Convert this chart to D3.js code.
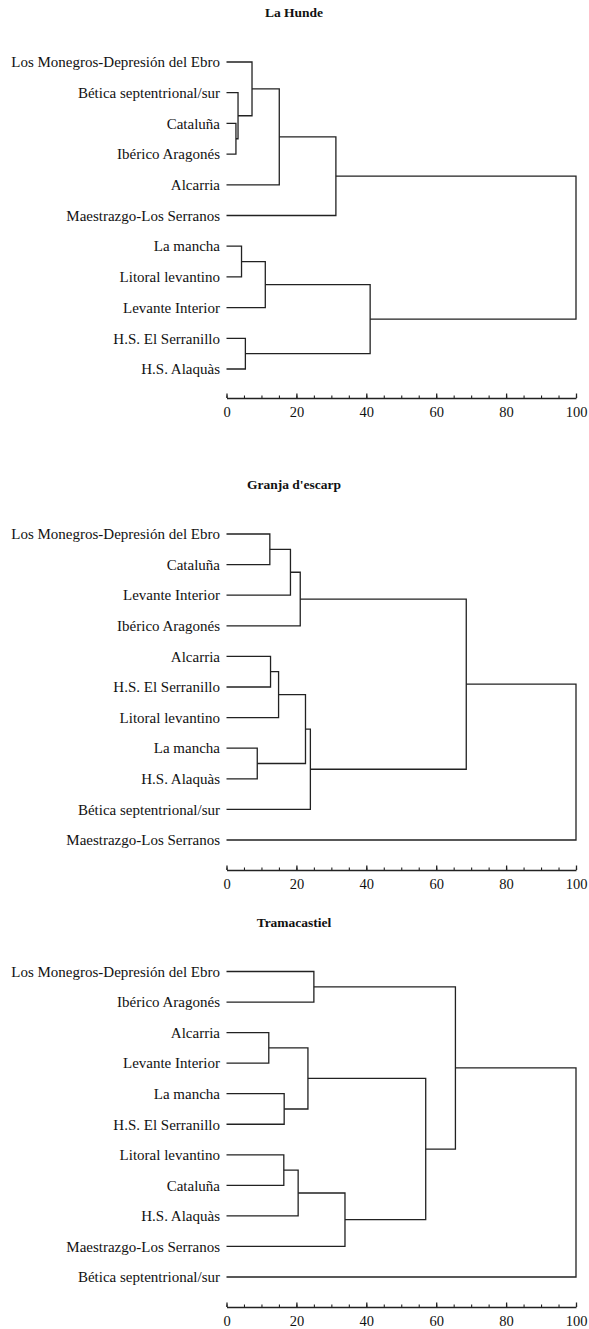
<!DOCTYPE html>
<html>
<head>
<meta charset="utf-8">
<script src="https://cdn.jsdelivr.net/npm/d3@7"></script>
<style>
  body { margin: 0; background: #fff; }
  svg text { font-family: "Liberation Serif", "Times New Roman", serif !important; fill: #111; }
</style>
</head>
<body>
<div id="chart"></div>
<script>
// leaf order and merges for each dendrogram
// merges: [childA, childB, height]; leaves are 0..10, merge i makes cluster 11+i
let titles = ["La Hunde", "Granja d'escarp", "Tramacastiel"];

let leavesHunde = ["Los Monegros-Depresión del Ebro", "Bética septentrional/sur", "Cataluña",
  "Ibérico Aragonés", "Alcarria", "Maestrazgo-Los Serranos", "La mancha", "Litoral levantino",
  "Levante Interior", "H.S. El Serranillo", "H.S. Alaquàs"];
let mergesHunde = [[2, 3, 2.7], [1, 11, 3.3], [6, 7, 4.3], [9, 10, 5.4], [0, 12, 7.3],
  [13, 8, 11.1], [15, 4, 15.1], [17, 5, 31.3], [16, 14, 41.1], [18, 19, 100]];

let leavesGranja = ["Los Monegros-Depresión del Ebro", "Cataluña", "Levante Interior",
  "Ibérico Aragonés", "Alcarria", "H.S. El Serranillo", "Litoral levantino", "La mancha",
  "H.S. Alaquàs", "Bética septentrional/sur", "Maestrazgo-Los Serranos"];
let mergesGranja = [[7, 8, 8.8], [0, 1, 12.4], [4, 5, 12.6], [13, 6, 14.9], [12, 2, 18.3],
  [15, 3, 21.1], [14, 11, 22.6], [17, 9, 24.0], [16, 18, 68.6], [19, 10, 100]];

let leavesTrama = ["Los Monegros-Depresión del Ebro", "Ibérico Aragonés", "Alcarria",
  "Levante Interior", "La mancha", "H.S. El Serranillo", "Litoral levantino", "Cataluña",
  "H.S. Alaquàs", "Maestrazgo-Los Serranos", "Bética septentrional/sur"];
let mergesTrama = [[2, 3, 12.1], [4, 5, 16.5], [6, 7, 16.4], [13, 8, 20.5], [11, 12, 23.3],
  [0, 1, 25.0], [14, 9, 33.9], [15, 17, 57.0], [16, 18, 65.5], [19, 10, 100]];

let majorTicks = [0, 20, 40, 60, 80, 100];
let minorTicks = d3.range(0, 101, 5);

function makeChart() {
  let svgWidth = 589;
  let svgHeight = 1329;
  let serif = "Liberation Serif, Times New Roman, serif";

  let svg = d3.select("#chart")
    .append("svg")
    .attr("width", svgWidth)
    .attr("height", svgHeight)
    .attr("font-family", serif);

  // panel layout: title y, first leaf y, last leaf y, axis y
  let panels = [
    { title: titles[0], leaves: leavesHunde, merges: mergesHunde, ty: 17, y0: 62, y1: 369, ay: 398 },
    { title: titles[1], leaves: leavesGranja, merges: mergesGranja, ty: 489, y0: 534, y1: 840, ay: 870 },
    { title: titles[2], leaves: leavesTrama, merges: mergesTrama, ty: 927, y0: 971.5, y1: 1277, ay: 1307 }
  ];

  let x = d3.scaleLinear().domain([0, 100]).range([226.5, 576]);

  panels.forEach(function(p) {
    let g = svg.append("g");

    let y = d3.scalePoint().domain(d3.range(p.leaves.length)).range([p.y0, p.y1]);

    //title
    g.append("text")
      .attr("x", 294)
      .attr("y", p.ty)
      .attr("text-anchor", "middle")
      .attr("font-family", serif)
      .attr("font-size", "13.5px")
      .attr("font-weight", "bold")
      .text(p.title);

    //leaf labels
    g.selectAll(".leaf")
      .data(p.leaves)
      .enter()
      .append("text")
      .attr("class", "leaf")
      .attr("x", 220)
      .attr("y", (d, i) => y(i))
      .attr("dy", "0.35em")
      .attr("text-anchor", "end")
      .attr("font-family", serif)
      .attr("font-size", "15px")
      .text(d => d);

    // node positions: leaves first, then clusters
    let nodes = p.leaves.map((d, i) => ({ h: 0, y: y(i) }));
    let links = [];
    p.merges.forEach(function(m) {
      let a = nodes[m[0]], b = nodes[m[1]];
      links.push({ a: a, b: b, h: m[2] });
      nodes.push({ h: m[2], y: (a.y + b.y) / 2 });
    });

    g.selectAll(".link")
      .data(links)
      .enter()
      .append("path")
      .attr("class", "link")
      .attr("fill", "none")
      .attr("stroke", "#222")
      .attr("stroke-width", 1.3)
      .attr("d", d => `M${x(d.a.h)},${d.a.y}H${x(d.h)}V${d.b.y}H${x(d.b.h)}`);

    //axis
    let minor = g.append("g")
      .attr("transform", `translate(0, ${p.ay})`)
      .call(d3.axisBottom(x).tickValues(minorTicks).tickSize(-2.5).tickFormat(""));
    minor.select(".domain").remove();

    let axis = g.append("g")
      .attr("transform", `translate(0, ${p.ay})`)
      .call(d3.axisBottom(x).tickValues(majorTicks).tickSize(-4.5).tickSizeOuter(0).tickPadding(9));
    axis.attr("font-family", serif);
    axis.selectAll("text")
      .attr("font-size", "14.5px")
      .attr("fill", "#111");
    axis.selectAll("line, path").attr("stroke", "#222").attr("stroke-width", 1.3);
    minor.selectAll("line").attr("stroke", "#222").attr("stroke-width", 1.1);
  });
}

makeChart();
</script>
</body>
</html>
